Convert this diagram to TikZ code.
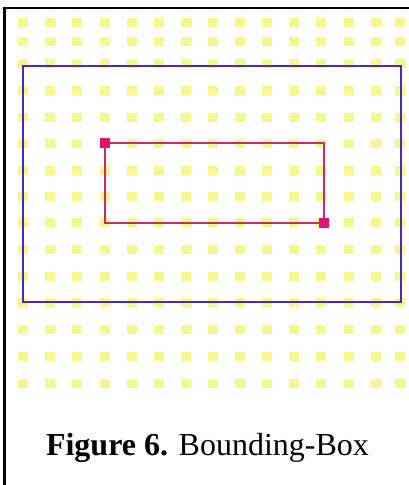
\documentclass[tikz,border=0pt]{standalone}
\usepackage{fontspec}
\setmainfont{Liberation Serif}
\definecolor{dotyellow}{RGB}{245,247,140}
\definecolor{outerblue}{RGB}{75,40,195}
\definecolor{innerpink}{RGB}{205,40,110}
\definecolor{handlepink}{RGB}{222,20,110}
\tikzset{
  dotcell/.style={fill=dotyellow},
  framerule/.style={line width=2.2pt, black},
  outerbox/.style={draw=outerblue, line width=2.2pt},
  innerbox/.style={draw=innerpink, line width=1.8pt},
  handle/.style={fill=handlepink, draw=none, minimum size=10pt, inner sep=0pt, rectangle},
  caption/.style={font=\fontsize{32}{38}\selectfont, anchor=base, inner sep=0pt}
}
\begin{document}
\begin{tikzpicture}[x=1pt,y=-1pt]
\useasboundingbox (0,0) rectangle (409,485);
\fill[white] (0,0) rectangle (409,485);
% dot grid
\foreach \x in {23,50,77,105,132,159,186,213,240,267,294,321,349,376,400}{
  \foreach \y in {22,41,63,90,117,143,170,196,222,249,276,302,329,356,383}{
    \fill[dotcell] (\x-5,\y-4.5) rectangle (\x+5,\y+4.5);
  }
}
% frame (left and top)
\coordinate (fbl) at (4.5,485);
\coordinate (ftl) at (4.5,7.8);
\coordinate (ftr) at (409,7.8);
\draw[framerule] (fbl) -- (ftl) -- (ftr);
% outer bounding box
\coordinate (o1) at (23,66);
\coordinate (o2) at (401,302);
\draw[outerbox] (o1) rectangle (o2);
% inner box
\coordinate (i1) at (105,143);
\coordinate (i2) at (324,223);
\draw[innerbox] (i1) rectangle (i2);
\node[handle] (h1) at (i1) {};
\node[handle] (h2) at (i2) {};
% caption
\node[caption] (cap) at (207.5,455) {\textbf{Figure 6.} Bounding-Box};
\end{tikzpicture}
\end{document}
